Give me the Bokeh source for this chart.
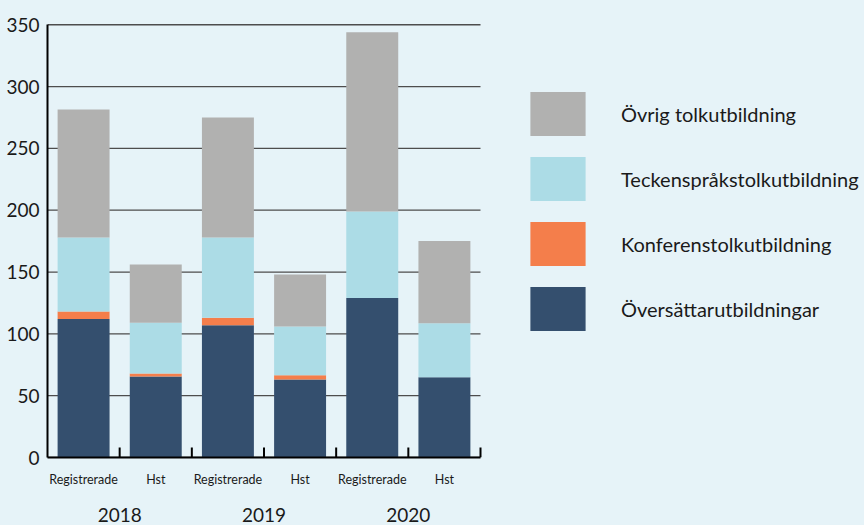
from bokeh.plotting import figure
from bokeh.models import (Range1d, LinearAxis, FixedTicker, Legend, LegendItem, ColumnDataSource)
from bokeh.embed import file_html
from bokeh.resources import INLINE

years = ["2018", "2019", "2020"]
groups = ["Registrerade", "Hst"]
series_names = ["Översättarutbildningar", "Konferenstolkutbildning",
                "Teckenspråkstolkutbildning", "Övrig tolkutbildning"]
oversattar = [112, 65.5, 107, 63, 129, 65]
konferens = [6, 2.5, 6, 3.5, 0, 0]
tecken = [60, 41, 65, 39.5, 70, 43.5]
ovrig = [103.5, 47, 97, 42, 145, 66.5]
colors = ["#344f6e", "#f47e4b", "#acdce6", "#b1b1b0"]
y_ticks = [0, 50, 100, 150, 200, 250, 300, 350]

BG = "#e6f3f8"
FONT = "Lato"
TXT = "#1a1a1a"

W, H = 864, 525
LEFT, TOP, BOTTOM = 47, 23, 68
BAR_AREA_PX = 433          # width of the bar area; the rest of the frame holds the legend

cat_labels = [g for y in years for g in groups]
n = len(cat_labels)
xc = [i + 0.5 for i in range(n)]                 # category centres
bounds = [i + 1 for i in range(n)]               # category boundaries
ng = len(groups)
year_pos = [j * ng + ng / 2 for j in range(len(years))]
x_end = n * (W - LEFT) / BAR_AREA_PX

source = ColumnDataSource(dict(x=xc, ov=oversattar, ko=konferens, te=tecken, ot=ovrig))
tick_src = ColumnDataSource(dict(x=bounds, y=[0] * n))
grid_src = ColumnDataSource(dict(x0=[0] * len(y_ticks), x1=[n] * len(y_ticks), y=y_ticks))

p = figure(width=W, height=H,
           x_range=Range1d(0, x_end), y_range=Range1d(0, 351), x_axis_type=None,
           output_backend="svg", toolbar_location=None,
           min_border_left=LEFT, min_border_right=0, min_border_top=TOP, min_border_bottom=BOTTOM)
p.background_fill_color = BG
p.border_fill_color = BG
p.outline_line_color = None
p.xgrid.visible = False
p.ygrid.visible = False

# horizontal grid lines over the bar area only
p.segment(x0="x0", x1="x1", y0="y", y1="y", source=grid_src,
          line_color="#4d4d4d", line_width=1.3)

rs = p.vbar_stack(["ov", "ko", "te", "ot"], x="x", width=0.72, source=source,
                  fill_color=colors, line_color=None)

# small inner tick marks at category boundaries
p.ray(x="x", y="y", length=10, length_units="screen", angle=90, angle_units="deg",
      line_color="black", line_width=2, source=tick_src)

# y axis
yax = p.yaxis[0]
yax.ticker = FixedTicker(ticks=y_ticks, minor_ticks=[])
yax.bounds = (0, 350)
yax.major_label_text_font = FONT
yax.major_label_text_font_size = "19px"
yax.major_label_text_color = TXT
yax.major_label_standoff = 8
yax.major_tick_in = 0
yax.major_tick_out = 0
yax.axis_line_color = "black"
yax.axis_line_width = 2

# sub labels (with the x axis line)
sax = LinearAxis(ticker=FixedTicker(ticks=xc, minor_ticks=[]), bounds=(0, n),
                 major_label_overrides={v: l for v, l in zip(xc, cat_labels)},
                 axis_line_color="black", axis_line_width=2,
                 major_tick_line_color=None, minor_tick_line_color=None,
                 major_tick_in=0, major_tick_out=0,
                 major_label_text_font=FONT, major_label_text_font_size="12.5px",
                 major_label_text_color=TXT, major_label_standoff=14)
p.add_layout(sax, "below")

# years
yrax = LinearAxis(ticker=FixedTicker(ticks=year_pos, minor_ticks=[]), bounds=(0, n),
                  major_label_overrides={v: l for v, l in zip(year_pos, years)},
                  axis_line_color=None, major_tick_line_color=None, minor_tick_line_color=None,
                  major_tick_in=0, major_tick_out=0,
                  major_label_text_font=FONT, major_label_text_font_size="19px",
                  major_label_text_color=TXT, major_label_standoff=18)
p.add_layout(yrax, "below")

order = [3, 2, 1, 0]
legend = Legend(items=[LegendItem(label=series_names[i], renderers=[rs[i]]) for i in order],
                location=(476, 121), orientation="vertical",
                glyph_width=69, glyph_height=55, spacing=10, label_standoff=29,
                padding=0, margin=0, border_line_color=None, background_fill_alpha=0,
                label_text_font=FONT, label_text_font_size="20px", label_text_color=TXT)
p.add_layout(legend, "center")

html = file_html(p, INLINE)
html = html.replace("<head>", "<head><style>body{background:%s;}</style>" % BG, 1)
open("out.html", "w").write(html)
